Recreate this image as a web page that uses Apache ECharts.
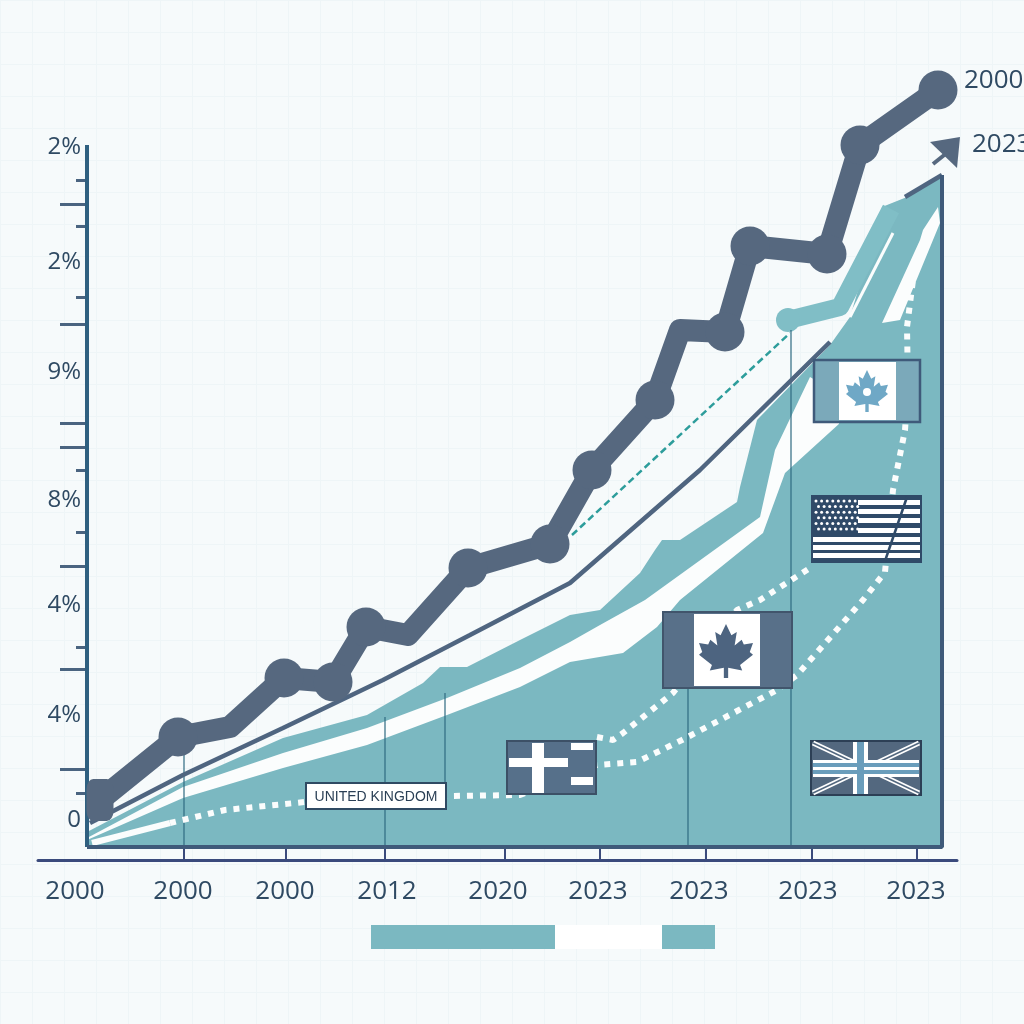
<!DOCTYPE html>
<html>
<head>
<meta charset="utf-8">
<style>
  html, body { margin: 0; padding: 0; background: #f6fafb; overflow: hidden; }
  #chart { width: 1024px; height: 1024px; }
</style>
<script src="https://cdn.jsdelivr.net/npm/echarts@6/dist/echarts.min.js"></script>
</head>
<body>
<div id="chart"></div>
<script>
// tick labels
const xLabels = ['2000', '2000', '2000', '2012', '2020', '2023', '2023', '2023', '2023'];
const xLabelPos = [-1.2, 9.6, 19.8, 30, 41.1, 51.1, 61.2, 72.1, 82.9];
const xTickPos = [9.7, 19.9, 29.8, 41.8, 51.3, 61.9, 72.5, 83];
const yLabels = ['0', '4%', '4%', '8%', '9%', '2%', '2%'];
const yLabelPos = [2.7, 13.2, 24.2, 34.7, 47.5, 58.5, 70];
const yLongTicks = [7.8, 17.8, 28.1, 40, 42.4, 52.3, 64.3];
const yShortTicks = [5.4, 20, 31.5, 37.7, 55, 62.1, 66.7];

// thick dark line
const darkX = [1.3, 9.1, 14.3, 19.7, 24.6, 27.9, 32.1, 38.1, 46.3, 50.5, 56.8, 59.3, 63.8, 66.3, 74, 77.3, 85.1];
const darkY = [4.7, 11, 12, 16.9, 16.5, 22, 21.2, 27.9, 30.3, 37.7, 44.7, 51.7, 51.5, 60.1, 59.3, 70.2, 75.7];
const darkKnots = [1, 3, 4, 5, 7, 8, 9, 10, 12, 13, 14, 15, 16];

// thin dark line
const thinX = [0.3, 9.6, 19.6, 29.6, 38.3, 48.3, 61.3, 74.3];
const thinY = [2.4, 7.2, 11.9, 16.7, 21.2, 26.4, 37.7, 50.5];
const thinTipX = [81.8, 85.5];
const thinTipY = [65, 67.2];

// upper teal band
const upperX = [0, 9.6, 19.6, 28, 33.6, 35.3, 38, 43.3, 48.3, 51.3, 55.3, 56.8, 57.5, 59.3, 65, 65.3, 67, 74.3, 76.3, 79.3, 79.5, 82, 85.5];
const upperY = [1.5, 6.5, 10.9, 13.2, 16.4, 18, 18, 20.7, 23.2, 23.7, 27.4, 29.7, 30.7, 30.7, 34.5, 36, 42.7, 50.2, 53, 63, 64, 65, 67.2];

// white gap
const gapX = [0, 9.6, 19.6, 28, 36, 43.3, 48.3, 51.3, 55.8, 67.3, 68.8, 72.3, 74, 75.2];
const gapY = [0.9, 6, 9.4, 11.9, 14.9, 17.9, 20.5, 22.2, 24.7, 33, 39.7, 47, 46, 42.4];

// lower teal area
const lowerX = [0, 9.6, 19.6, 28, 36, 43.3, 48.3, 53.6, 57, 59.3, 67.6, 69.8, 75.3];
const lowerY = [0.7, 4.9, 7.9, 10.2, 13.2, 16, 18.5, 19.4, 22, 24.7, 31.4, 37.4, 42.4];

// light thick line near the top
const lightX = [70.1, 75.3, 80.4];
const lightY = [52.7, 54, 63.8];

// white slivers at the tip
const sliverLineX = [76.3, 80.6];
const sliverLineY = [53, 61.4];
const sliverX = [79.5, 81.3, 85.3, 85.1, 83.6, 83.3];
const sliverY = [52.4, 52.7, 62.4, 64, 61.7, 60.7];

// dotted lines
const solidStripX = [0.5, 8.3];
const solidStripY = [0.4, 2.4];
const dotLowX = [8.3, 13.8, 21.8, 36.3, 43.3, 51, 55, 59.5, 69, 71, 77.6, 79.8, 80.6, 81.8, 82.1, 82, 82.6, 83];
const dotLowY = [2.4, 3.7, 4.5, 5.1, 5.2, 8.2, 8.5, 10.7, 15.7, 17.2, 24.7, 27.5, 35.7, 41.7, 46, 52, 56.7, 58];
const dotHighX = [51, 52.6, 53.6, 58.6, 65, 67.3, 72.3];
const dotHighY = [11, 10.7, 11.4, 15.4, 23.7, 24.7, 27.9];

// dashed teal line
const dashX = [48.5, 70.3];
const dashY = [31.2, 51.4];

// thin droplines
const dropX = [9.7, 29.8, 35.8, 60.1, 70.4];
const dropTop = [9.7, 13, 15.4, 16.7, 51.7];
const dropBottom = [0, 0, 6.5, 0, 0];

const zip = (xs, ys) => xs.map((x, i) => [x, ys[i]]);

const TEAL = '#7bb8c1';
const DARK = '#56687f';
const INK = '#2f4a63';
const FONT = '"Open Sans", "Noto Sans", sans-serif';

const dropData = [];
dropX.forEach((x, i) => {
  dropData.push([x, dropTop[i]], [x, dropBottom[i]], [null, null]);
});

// flat helpers for the flags and the other drawn bits
const Z = 50;
function rect(x, y, w, h, fill, stroke, lw) {
  return { type: 'rect', z: Z, shape: { x, y, width: w, height: h }, style: { fill: fill || 'none', stroke: stroke || 'none', lineWidth: lw || 0 } };
}
function seg(x1, y1, x2, y2, color, lw) {
  return { type: 'line', z: Z, shape: { x1, y1, x2, y2 }, style: { stroke: color, lineWidth: lw } };
}
function poly(points, fill) {
  return { type: 'polygon', z: Z, shape: { points }, style: { fill } };
}
function dot(cx, cy, r, fill) {
  return { type: 'circle', z: Z, shape: { cx, cy, r }, style: { fill } };
}
function label(text, x, y, size, color, family, align) {
  return { type: 'text', z: Z, x, y, style: { text, fontSize: size, fill: color, fontFamily: family || FONT, align: align || 'left', verticalAlign: 'middle' } };
}
// maple leaf, unit shape around 0,0
const leaf = [[0,-1],[0.2,-0.58],[0.4,-0.7],[0.32,-0.2],[0.58,-0.42],[0.66,-0.24],[1,-0.3],[0.88,0.04],[1,0.14],[0.52,0.52],[0.6,0.72],[0.08,0.62],[0.08,1],[-0.08,1],[-0.08,0.62],[-0.6,0.72],[-0.52,0.52],[-1,0.14],[-0.88,0.04],[-1,-0.3],[-0.66,-0.24],[-0.58,-0.42],[-0.32,-0.2],[-0.4,-0.7],[-0.2,-0.58]];
function mapleLeaf(cx, cy, s, fill) {
  return poly(leaf.map(p => [cx + p[0] * s, cy + p[1] * s]), fill);
}

function canadaFlags() {
  return [
    rect(663, 612, 129, 76, '#587089', '#41556c', 2),
    rect(694, 614, 66, 72, '#ffffff'),
    mapleLeaf(726, 651, 27, '#4d6480'),
    rect(814, 360, 106, 62, '#7ba9ba', '#3f5a7a', 2.5),
    rect(839, 362, 57, 58, '#ffffff'),
    mapleLeaf(867, 391, 21, '#6fa8c6'),
    dot(867, 392, 4, '#ffffff')
  ];
}
function crossFlag() {
  return [
    rect(507, 741, 89, 53, '#56708a', '#3c5066', 2),
    rect(532, 743, 12, 50, '#ffffff'),
    rect(509, 758, 59, 9, '#ffffff'),
    rect(571, 743, 22, 7, '#ffffff'),
    rect(571, 777, 22, 8, '#ffffff')
  ];
}
function unionFlag() {
  return [
    rect(811, 741, 110, 54, '#53687f', '#2c3f55', 2),
    seg(813, 743, 919, 793, '#ffffff', 5),
    seg(919, 743, 813, 793, '#ffffff', 5),
    seg(813, 743, 919, 793, '#53687f', 1.5),
    seg(919, 743, 813, 793, '#53687f', 1.5),
    rect(853, 742, 15, 52, '#ffffff'),
    rect(813, 760, 106, 17, '#ffffff'),
    rect(813, 763, 106, 11, '#6a9dbb'),
    rect(813, 767, 106, 3, '#ffffff'),
    rect(857, 742, 7, 52, '#6a9dbb')
  ];
}
function starsFlag() {
  const parts = [rect(812, 496, 109, 66, '#2f4a68', '#2f4a68', 2)];
  [500, 509, 518, 528, 537, 545, 553].forEach(y => {
    parts.push(rect(813, y, 107, 5, '#ffffff'));
  });
  parts.push(rect(813, 497, 45, 37, '#2f4a68'));
  for (let r = 0; r < 6; r++) {
    for (let c = 0; c < 8; c++) {
      parts.push(dot(816 + c * 5.6 + (r % 2) * 2.5, 501 + r * 5.6, 1.5, '#ffffff'));
    }
  }
  parts.push(seg(907, 497, 885, 561, '#2f4a68', 2.5));
  return parts;
}

const graphicElements = [].concat(
  canadaFlags(), crossFlag(), unionFlag(), starsFlag(),
  [
    // series name box
    rect(306, 783, 140, 26, '#ffffff', INK, 2),
    label('UNITED KINGDOM', 376, 797, 14, '#2a3f55', '"Liberation Sans", sans-serif', 'center'),
    // arrow at the top
    poly([[930, 142], [960, 137], [957, 168]], DARK),
    seg(933, 164, 948, 152, DARK, 4),
    // end labels
    label('2000', 964, 81, 26, INK),
    label('2023', 972, 145, 26, INK),
    // bottom legend strip
    rect(371, 925, 184, 24, TEAL),
    rect(555, 925, 107, 24, '#ffffff'),
    rect(662, 925, 53, 24, TEAL)
  ]
);

const myChart = echarts.init(document.getElementById('chart'), null, { renderer: 'canvas' });

const lineBase = { type: 'line', xAxisIndex: 0, yAxisIndex: 0, symbol: 'none', animation: false, clip: false, silent: true };
const tickY = (values, len, width) => ({
  type: 'value', gridIndex: 0, min: 0, max: 80, position: 'left', z: 6,
  axisLine: { show: false },
  splitLine: { show: false },
  axisLabel: { show: false },
  axisTick: { show: true, inside: false, length: len, customValues: values, lineStyle: { color: '#4a6480', width } }
});

const option = {
  backgroundColor: '#f6fafb',
  animation: false,
  graphic: { elements: graphicElements },
  grid: [
    { left: 87, top: 47, width: 855, height: 800 },
    { left: 38, top: 847, width: 919, height: 13 },
    { left: 0, top: 0, width: 1024, height: 1024 }
  ],
  xAxis: [
    { type: 'value', gridIndex: 0, min: 0, max: 85.5, show: false },
    {
      type: 'value', gridIndex: 1, min: -4.9, max: 87, position: 'bottom',
      splitLine: { show: false },
      axisLine: { onZero: false, lineStyle: { color: '#3a4a7c', width: 3 } },
      axisTick: { inside: true, length: 13, customValues: xTickPos, lineStyle: { color: '#3a4a7c', width: 2 } },
      axisLabel: {
        customValues: xLabelPos, margin: 19, color: INK, fontSize: 26, fontFamily: FONT,
        formatter: v => xLabels[xLabelPos.indexOf(v)]
      }
    },
    {
      type: 'value', gridIndex: 2, min: 0, max: 1024, interval: 32,
      axisLine: { show: false }, axisTick: { show: false }, axisLabel: { show: false },
      splitLine: { lineStyle: { color: '#eef5f7', width: 1 } }
    }
  ],
  yAxis: [
    tickY(yLongTicks, 27, 3),
    tickY(yShortTicks, 11, 3),
    {
      type: 'value', gridIndex: 0, min: 0, max: 80, position: 'left', z: 6,
      axisLine: { show: false }, axisTick: { show: false }, splitLine: { show: false },
      axisLabel: {
        customValues: yLabelPos, margin: 6, color: INK, fontSize: 24, fontFamily: FONT,
        formatter: v => yLabels[yLabelPos.indexOf(v)]
      }
    },
    { type: 'value', gridIndex: 1, min: 0, max: 1, show: false },
    {
      type: 'value', gridIndex: 2, min: 0, max: 1024, interval: 32,
      axisLine: { show: false }, axisTick: { show: false }, axisLabel: { show: false },
      splitLine: { lineStyle: { color: '#eef5f7', width: 1 } }
    }
  ],
  series: [
    Object.assign({}, lineBase, { name: 'upper', z: 3, data: zip(upperX, upperY), lineStyle: { width: 0 }, areaStyle: { color: TEAL, opacity: 1 } }),
    Object.assign({}, lineBase, { name: 'gap', z: 4, data: zip(gapX, gapY), lineStyle: { width: 0 }, areaStyle: { color: '#fbfdfd', opacity: 1 } }),
    Object.assign({}, lineBase, { name: 'lower', z: 5, data: zip(lowerX, lowerY), lineStyle: { width: 0 }, areaStyle: { color: TEAL, opacity: 1 } }),
    Object.assign({}, lineBase, { name: 'light', z: 6, data: zip(lightX, lightY), lineStyle: { color: '#80bec6', width: 18, join: 'round' } }),
    {
      type: 'scatter', z: 6, silent: true, clip: false, symbolSize: 24,
      data: [[lightX[0], lightY[0]]], itemStyle: { color: '#80bec6', opacity: 1 }
    },
    Object.assign({}, lineBase, { name: 'sliverLine', z: 7, data: zip(sliverLineX, sliverLineY), lineStyle: { color: '#fbfdfd', width: 3 } }),
    {
      type: 'custom', z: 7, silent: true, clip: false,
      coordinateSystem: 'cartesian2d', xAxisIndex: 0, yAxisIndex: 0,
      data: [[0, 0]],
      renderItem: (params, api) => ({
        type: 'polygon',
        shape: { points: zip(sliverX, sliverY).map(p => api.coord(p)) },
        style: { fill: '#fbfdfd' }
      })
    },
    Object.assign({}, lineBase, { name: 'drops', z: 8, data: dropData, connectNulls: false, lineStyle: { color: '#2f6b82', width: 1.2 } }),
    Object.assign({}, lineBase, { name: 'strip', z: 8, data: zip(solidStripX, solidStripY), lineStyle: { color: '#fbfdfd', width: 6 } }),
    Object.assign({}, lineBase, { name: 'dotLow', z: 8, data: zip(dotLowX, dotLowY), lineStyle: { color: '#fbfdfd', width: 6, type: [6, 7] } }),
    Object.assign({}, lineBase, { name: 'dotHigh', z: 8, data: zip(dotHighX, dotHighY), lineStyle: { color: '#fbfdfd', width: 6, type: [6, 7] } }),
    Object.assign({}, lineBase, { name: 'dash', z: 8, data: zip(dashX, dashY), lineStyle: { color: '#2d9d9b', width: 2.5, type: [7, 4] } }),
    Object.assign({}, lineBase, { name: 'thin', z: 9, data: zip(thinX, thinY), lineStyle: { color: '#4f6580', width: 4.5 } }),
    Object.assign({}, lineBase, { name: 'thinTip', z: 9, data: zip(thinTipX, thinTipY), lineStyle: { color: '#4f6580', width: 4.5 } }),
    // plot frame
    Object.assign({}, lineBase, { name: 'yLine', z: 10, data: [[0, 70.2], [0, 0]], lineStyle: { color: '#2f6080', width: 4 } }),
    Object.assign({}, lineBase, { name: 'frame', z: 10, data: [[0, 0], [85.5, 0], [85.5, 67.2]], lineStyle: { color: '#3f5a7a', width: 4 } }),
    Object.assign({}, lineBase, { name: 'dark', z: 11, data: zip(darkX, darkY), lineStyle: { color: DARK, width: 22, join: 'round', cap: 'round' } }),
    {
      type: 'scatter', z: 11, silent: true, clip: false, symbolSize: 39,
      data: darkKnots.map(i => [darkX[i], darkY[i]]), itemStyle: { color: DARK, opacity: 1 }
    },
    {
      type: 'scatter', z: 11, silent: true, clip: false, symbol: 'roundRect', symbolSize: [27, 42],
      data: [[darkX[0], darkY[0]]], itemStyle: { color: DARK, opacity: 1 }
    }
  ]
};

myChart.setOption(option);
window.addEventListener('resize', () => {
  myChart.resize();
});
</script>
</body>
</html>
